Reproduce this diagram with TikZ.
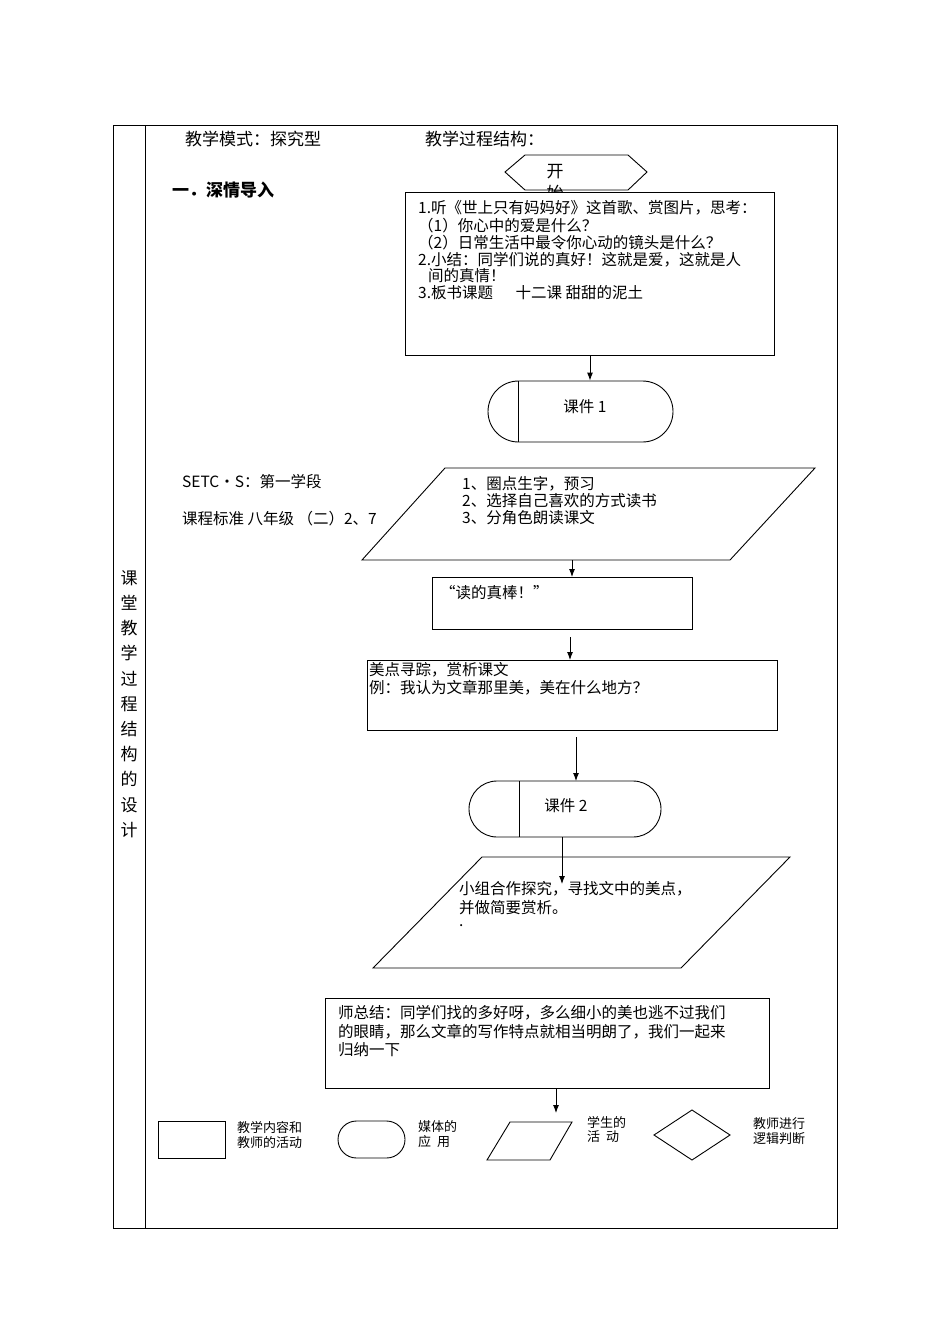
\documentclass[tikz,border=0pt]{standalone}
\usepackage{fontspec}
\setmainfont{Noto Sans CJK SC}
\usetikzlibrary{arrows.meta,shapes.geometric,shapes.misc}
\tikzset{x=1pt,y=-1pt,
 ln/.style={draw,line width=0.9pt},
 arr/.style={draw,line width=0.9pt,-{Latex[length=8pt,width=6pt]}},
 tx/.style={anchor=west,inner sep=0pt,font=\fontsize{15.5}{17}\selectfont},
 lg/.style={anchor=west,inner sep=0pt,font=\fontsize{13}{15}\selectfont}}
\begin{document}
\begin{tikzpicture}
\useasboundingbox (0,0) rectangle (950,1344);
\draw[line width=0.8pt] (113,125) rectangle (837,1228);
\draw[line width=0.8pt] (145,125) -- (145,1228);
\node[align=center,inner sep=0pt,font=\fontsize{17}{25.2}\selectfont] (side) at (129,704) {课\\堂\\教\\学\\过\\程\\结\\构\\的\\设\\计};
\node[tx,font=\fontsize{17}{19}\selectfont] (h1) at (185,139) {教学模式：探究型};
\node[tx,font=\fontsize{17}{19}\selectfont] (h2) at (425,139) {教学过程结构：};
\node[tx,font=\bfseries\fontsize{17}{19}\selectfont] (s1) at (172,190) {一．深情导入};
% start hexagon
\draw[ln] (505,172)--(525,155)--(628,155)--(647,172)--(628,190)--(525,190)--cycle;
\node[inner sep=0pt,font=\fontsize{17}{19}\selectfont] (k) at (555,172) {开};
\node[inner sep=0pt,font=\fontsize{17}{19}\selectfont] (k2) at (555,193) {始};
\node[ln,fill=white,minimum width=369pt,minimum height=163pt,anchor=north west,inner sep=0pt] (b1) at (405,192) {};
\node[tx] (t11) at (418,208) {1.听《世上只有妈妈好》这首歌、赏图片，思考：};
\node[tx] (t12) at (418,226) {（1）你心中的爱是什么？};
\node[tx] (t13) at (418,243) {（2）日常生活中最令你心动的镜头是什么？};
\node[tx] (t14) at (418,260) {2.小结：同学们说的真好！这就是爱，这就是人};
\node[tx] (t15) at (428,276) {间的真情！};
\node[tx] (t16) at (418,293) {3.板书课题\quad\ \ 十二课 甜甜的泥土};
% pill 1
\node[ln,rounded rectangle,minimum width=185pt,minimum height=61pt,inner sep=0pt] (p1) at (580.5,411.5) {};
\draw[ln] (518,381)--(518,442);
\node[tx,anchor=center] (p1t) at (585,407) {课件 1};
\draw[arr] (b1.south -| 590,0) -- (p1.north -| 590,0);
% parallelogram 1
\draw[ln] (445,468)--(815,468)--(730,560)--(362,560)--cycle;
\coordinate (pa1) at (572,560);
\node[tx] (a1) at (462,484) {1、圈点生字，预习};
\node[tx] (a2) at (462,501) {2、选择自己喜欢的方式读书};
\node[tx] (a3) at (462,518) {3、分角色朗读课文};
\node[tx] (l1) at (182,482) {SETC·S：第一学段};
\node[tx] (l2) at (182,519) {课程标准 八年级 （二）2、7};
\node[ln,minimum width=260pt,minimum height=52pt,anchor=north west,inner sep=0pt] (b2) at (432,577) {};
\node[tx] (b2t) at (440,593) {“读的真棒！”};
\draw[arr] (pa1) -- (b2.north -| pa1);
\coordinate (c2) at (570,637);
\node[ln,minimum width=410pt,minimum height=70pt,anchor=north west,inner sep=0pt] (b3) at (367,660) {};
\draw[arr] (c2) -- (b3.north -| c2);
\node[tx] (b3a) at (369,670) {美点寻踪，赏析课文};
\node[tx] (b3b) at (369,688) {例：我认为文章那里美，美在什么地方？};
% pill 2
\coordinate (c3) at (576,737);
\node[ln,rounded rectangle,minimum width=192pt,minimum height=56pt,inner sep=0pt] (p2) at (565,809) {};
\draw[arr] (c3) -- (576,781);
\draw[ln] (519,781)--(519,837);
\node[tx,anchor=center] (p2t) at (566,806) {课件 2};
\draw[ln] (482,857)--(790,857)--(681,968)--(373,968)--cycle;
\draw[arr] (p2.south -| 562,0) -- (562,884);
\node[tx] (q1) at (459,889) {小组合作探究，寻找文中的美点，};
\node[tx] (q2) at (459,908) {并做简要赏析。};
\node[tx] (q3) at (459,926) {.};
\node[ln,minimum width=444pt,minimum height=90pt,anchor=north west,inner sep=0pt] (b4) at (325,998) {};
\node[tx] (r1) at (338,1013) {师总结：同学们找的多好呀，多么细小的美也逃不过我们};
\node[tx] (r2) at (338,1032) {的眼睛，那么文章的写作特点就相当明朗了，我们一起来};
\node[tx] (r3) at (338,1050) {归纳一下};
\coordinate (e4) at (556,1113);
\draw[arr] (b4.south -| e4) -- (e4);
% legend
\node[ln,minimum width=67pt,minimum height=37pt,anchor=north west,inner sep=0pt] (g1) at (158,1121) {};
\node[lg] (g1a) at (237,1128) {教学内容和};
\node[lg] (g1b) at (237,1143) {教师的活动};
\node[ln,rounded rectangle,minimum width=67pt,minimum height=37pt,inner sep=0pt] (g2) at (371.5,1139.5) {};
\node[lg] (g2a) at (418,1127) {媒体的};
\node[lg] (g2b) at (418,1142) {应\ \ 用};
\draw[ln] (510,1122)--(572,1122)--(550,1160)--(487,1160)--cycle;
\node[lg] (g3a) at (587,1122) {学生的};
\node[lg] (g3b) at (587,1137) {活\ \ 动};
\draw[ln] (654,1135)--(692,1110)--(730,1135)--(692,1160)--cycle;
\node[lg] (g4a) at (753,1124) {教师进行};
\node[lg] (g4b) at (753,1139) {逻辑判断};
\end{tikzpicture}
\end{document}
